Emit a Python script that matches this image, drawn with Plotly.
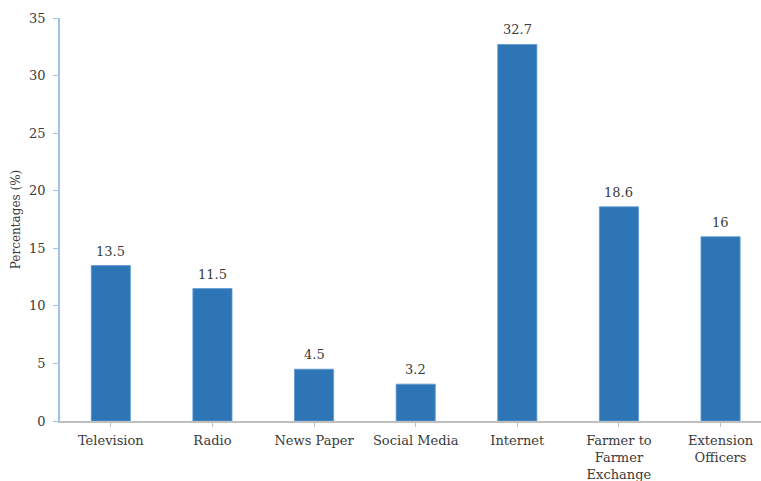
import plotly.graph_objects as go

categories = ["Television", "Radio", "News Paper", "Social Media", "Internet",
              "Farmer to<br>Farmer<br>Exchange", "Extension<br>Officers"]
values = [13.5, 11.5, 4.5, 3.2, 32.7, 18.6, 16]
labels = ["13.5", "11.5", "4.5", "3.2", "32.7", "18.6", "16"]
y_ticks = [0, 5, 10, 15, 20, 25, 30, 35]

font_family = "DejaVu Serif"
text_color = "#3a3a3a"
xs = list(range(len(categories)))

fig = go.Figure()
fig.add_trace(go.Bar(
    x=xs,
    y=values,
    width=0.385,
    marker=dict(color="#2e75b6", line=dict(color="#5b9bd5", width=0.8)),
    cliponaxis=False,
))

for xi, v, lab in zip(xs, values, labels):
    fig.add_annotation(x=xi, y=v, text=lab, showarrow=False,
                       xanchor="center", yanchor="bottom", yshift=5,
                       font=dict(family=font_family, size=13, color=text_color))

fig.update_layout(
    width=761, height=481,
    margin=dict(l=60, r=0, t=18, b=60),
    paper_bgcolor="white", plot_bgcolor="white",
    showlegend=False,
    font=dict(family=font_family, size=13, color=text_color),
    xaxis=dict(
        tickmode="array",
        tickvals=xs,
        ticktext=categories,
        range=[-0.5, 6.398],
        automargin=False,
        showgrid=False, zeroline=False,
        showline=True, linecolor="#bfbfbf", linewidth=1.5,
        ticks="outside", ticklen=4, tickcolor="#bfbfbf",
        ticklabelstandoff=3,
        tickfont=dict(family=font_family, size=13, color=text_color),
    ),
    yaxis=dict(
        range=[0, 35],
        tickmode="array", tickvals=y_ticks,
        automargin=False,
        showgrid=False, zeroline=False,
        showline=True, linecolor="#9dc3e6", linewidth=1.5,
        ticks="outside", ticklen=5, tickcolor="#9dc3e6",
        ticklabelstandoff=5,
        tickfont=dict(family=font_family, size=13, color=text_color),
        title=dict(text="Percentages (%)", standoff=6,
                   font=dict(family=font_family, size=12, color=text_color)),
    ),
)

fig.write_html("out.html")
